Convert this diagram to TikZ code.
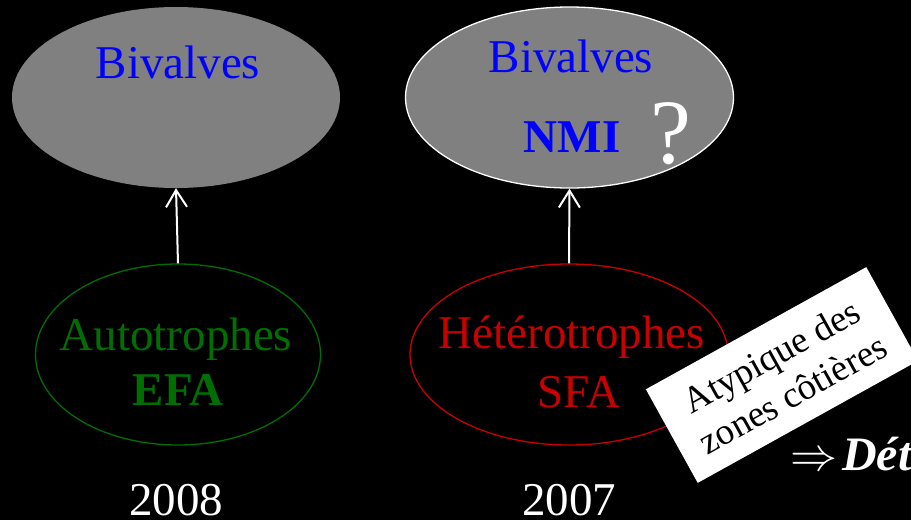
\documentclass[tikz,border=0pt]{standalone}
\usepackage{graphicx}
\usepackage{fontspec}
\setmainfont{Liberation Serif}
\usetikzlibrary{shapes.geometric,arrows.meta}
\definecolor{ellgray}{RGB}{128,128,128}
\definecolor{tgreen}{RGB}{0,110,0}
\definecolor{tred}{RGB}{200,0,0}
\definecolor{tblue}{RGB}{0,0,255}
\tikzset{
  topell/.style={ellipse, fill=ellgray, inner sep=0pt, minimum width=328pt, minimum height=181pt},
  botell/.style={ellipse, draw, line width=1.3pt, inner sep=0pt, minimum height=181pt},
  lbl/.style={anchor=base, inner sep=0pt, font=\fontsize{47}{50}\selectfont},
  uparrow/.style={draw=white, line width=2pt, -{Straight Barb[length=17pt,width=21pt,line width=2pt]}},
}
\begin{document}
\begin{tikzpicture}[x=1pt,y=-1pt]
\useasboundingbox (0,0) rectangle (911,520);
\fill[black] (0,0) rectangle (911,520);
\clip (0,0) rectangle (911,520);
% top ellipses
\node[topell] (e1) at (176,97.5) {};
\node[topell, draw=white, line width=1.3pt] (e2) at (569.5,97.5) {};
% bottom ellipses
\node[botell, draw=tgreen, minimum width=285pt] (e3) at (178,354.5) {};
\node[botell, draw=tred, minimum width=318pt] (e4) at (569,354.5) {};
% arrows
\draw[uparrow] (e3.north) -- (e1.south);
\draw[uparrow] (e4.north) -- (e2.south);
% texts
\node[lbl, text=tblue] (t1) at (178,78) {Bivalves};
\node[lbl, text=tblue] (t2) at (571,72) {Bivalves};
\node[lbl, text=tblue, font=\fontsize{47}{50}\selectfont\bfseries] (t3) at (572,152) {NMI};
\node[lbl, text=white, font=\fontsize{92}{96}\selectfont] (q) at (671,163) {?};
\node[lbl, text=tgreen] (t4) at (176,350) {Autotrophes};
\node[lbl, text=tgreen, font=\fontsize{47}{50}\selectfont\bfseries] (t5) at (178,405) {EFA};
\node[lbl, text=tred] (t6) at (572,348) {Hétérotrophes};
\node[lbl, text=tred] (t7) at (579,407) {SFA};
\node[lbl, text=white] (y1) at (176,515) {2008};
\node[lbl, text=white] (y2) at (569,515) {2007};
% rotated box
\node[fill=white, rotate=29, minimum width=252pt, minimum height=107pt, inner sep=0pt,
      align=center, font=\fontsize{37}{44}\selectfont, text=black] (box) at (782,375)
  {Atypique des\\zones côtières};
% implication
\node[anchor=base west, inner sep=0pt, text=white, font=\fontsize{48}{50}\selectfont] (imp) at (790,470)
  {\raisebox{0pt}{\resizebox{47pt}{!}{$\Rightarrow$}}\kern5pt\textbf{\textit{Dét}}};
\end{tikzpicture}
\end{document}
